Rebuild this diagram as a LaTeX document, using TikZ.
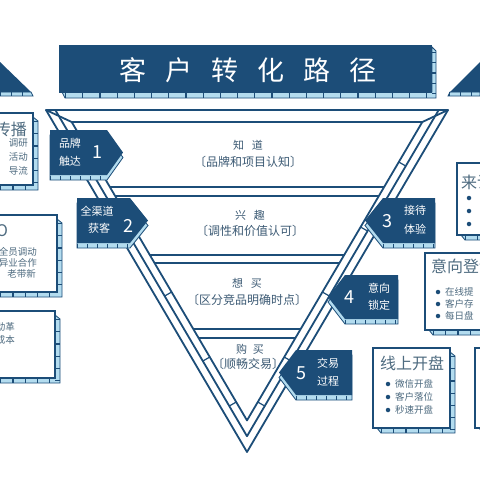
\documentclass[tikz,border=0pt]{standalone}
\usepackage{fontspec}
\setmainfont{Noto Sans CJK SC}
\definecolor{navy}{HTML}{1C4D78}
\definecolor{lblue}{HTML}{B3DCEF}
\definecolor{ink}{HTML}{3C5A74}
\definecolor{ink2}{HTML}{4E6B80}
\newcommand\tagright[5]{%
  \pgfmathsetmacro\ym{(#4+#5)/2}%
  \filldraw[lblue,draw=navy,line width=0.8] (#1,#4+5)--(#2,#4+5)--(#3,\ym+5)--(#2,#5+5)--(#1,#5+5)--cycle;
  \draw[navy,line width=4,dash pattern=on 1 off 9] (#1,#5+2.5)--(#2,#5+2.5);
  \fill[navy] (#1,#4)--(#2,#4)--(#3,\ym)--(#2,#5)--(#1,#5)--cycle;}
\newcommand\tagleft[5]{%
  \pgfmathsetmacro\ym{(#4+#5)/2}%
  \filldraw[lblue,draw=navy,line width=0.8] (#3,#4+5)--(#2,#4+5)--(#1,\ym+5)--(#2,#5+5)--(#3,#5+5)--cycle;
  \draw[navy,line width=4,dash pattern=on 1 off 9] (#2,#5+2.5)--(#3,#5+2.5);
  \fill[navy] (#3,#4)--(#2,#4)--(#1,\ym)--(#2,#5)--(#3,#5)--cycle;}
\newcommand\sidebox[4]{%
  \filldraw[lblue,draw=navy,line width=0.8] (#1+4,#4)--(#3,#4)--(#3,#2+4)--(#3+5,#2+8)--(#3+5,#4+5)--(#1+8,#4+5)--cycle;
  \draw[navy,line width=5,dash pattern=on 1.2 off 11] (#3+2.5,#2+8)--(#3+2.5,#4+4);
  \draw[navy,line width=5,dash pattern=on 1.2 off 11] (#1+8,#4+2.5)--(#3,#4+2.5);
  \filldraw[fill=white,draw=navy,line width=1.6] (#1,#2) rectangle (#3,#4);}
\begin{document}
\begin{tikzpicture}[x=1pt,y=-1pt,
  fr/.style={navy,line width=1.8,line join=round},
  stage/.style={text=ink,inner sep=0,font=\fontsize{11}{12}\selectfont},
  stagesub/.style={text=ink,inner sep=0,font=\fontsize{12}{13}\selectfont},
  tagtxt/.style={text=white,inner sep=0,font=\fontsize{11}{13}\selectfont},
  tagnum/.style={text=white,inner sep=0,font=\fontsize{18}{18}\selectfont},
  btitle/.style={text=ink2,inner sep=0,font=\fontsize{16}{16}\selectfont},
  bline/.style={text=ink2,inner sep=0,font=\fontsize{9.5}{10}\selectfont},
  ttl/.style={text=white,inner sep=0,font=\fontsize{27}{27}\selectfont},
  dot/.style={circle,fill=navy,inner sep=0,minimum size=4.5}]
\useasboundingbox (0,0) rectangle (480,480);
\clip (0,0) rectangle (480,480);
\fill[white] (0,0) rectangle (480,480);

% banner
\filldraw[lblue,draw=navy,line width=0.8] (62,92)--(432,92)--(432,47)--(436,51)--(436,98)--(65,98)--cycle;
\draw[navy,line width=5,dash pattern=on 1.2 off 16] (65,95.5)--(434,95.5);
\draw[navy,line width=4,dash pattern=on 1.2 off 9] (434,52)--(434,96);
\fill[navy] (59,45) rectangle (432,93);
\foreach \c [count=\i from 0] in {客,户,转,化,路,径}
  \node[ttl] (t\i) at (133+46*\i,70) {\c};

% corner triangles
\filldraw[lblue,draw=navy,line width=0.8] (0,92)--(31,92)--(33,96)--(0,96)--cycle;
\draw[navy,line width=4,dash pattern=on 1 off 10] (0,94)--(32,94);
\fill[navy] (0,62)--(31,92)--(0,92)--cycle;
\filldraw[lblue,draw=navy,line width=0.8] (480,92)--(450,92)--(448,96)--(480,96)--cycle;
\draw[navy,line width=4,dash pattern=on 1 off 10] (449,94)--(480,94);
\fill[navy] (480,62)--(450,92)--(480,92)--cycle;

% funnel frame
\draw[fr] (46,110)--(448,110)--(247,452)--cycle;
\draw[fr] (55.3,110)--(247,436.2)--(438.7,110);
\draw[fr] (71.7,122)--(422.3,122)--(247,420.4)--cycle;
\draw[fr] (46,110)--(71.7,122);
\draw[fr] (448,110)--(422.3,122);
\foreach \yy in {170,235,300,365,410} {
  \pgfmathsetmacro\xl{46+0.5877*(\yy-110)}
  \pgfmathsetmacro\xr{448-0.5877*(\yy-110)}
  \draw[navy,line width=1.2] (\xl+7,\yy-4)--(\xl+14,\yy-8);
  \draw[navy,line width=1.2] (\xr-7,\yy-4)--(\xr-14,\yy-8);
}
% dividers
\draw[fr] (109.9,187)--(384.1,187);
\draw[fr] (115.1,196)--(378.9,196);
\draw[fr] (149.8,255)--(344.2,255);
\draw[fr] (154.5,263)--(339.5,263);
\draw[fr] (193.3,329)--(300.7,329);
\draw[fr] (198.6,338)--(295.4,338);

% stage texts
\node[stage] (s1) at (248,145) {知\hspace{8pt}道};
\node[stagesub] (s1b) at (248,162) {〔品牌和项目认知〕};
\node[stage] (s2) at (250,215) {兴\hspace{8pt}趣};
\node[stagesub] (s2b) at (250,231) {〔调性和价值认可〕};
\node[stage] (s3) at (247,283) {想\hspace{8pt}买};
\node[stagesub] (s3b) at (247,300) {〔区分竞品明确时点〕};
\node[stage] (s4) at (250,349) {购\hspace{6pt}买};
\node[stagesub] (s4b) at (248,364) {〔顺畅交易〕};

% tags
\tagright{50}{107}{123}{130}{175}
\node[tagtxt] (g1a) at (70,143) {品牌};
\node[tagtxt] (g1b) at (70,161) {触达};
\node[tagnum] (g1n) at (97,152) {1};
\tagright{77}{130}{148}{198}{243}
\node[tagtxt] (g2a) at (97,211) {全渠道};
\node[tagtxt] (g2b) at (99,228) {获客};
\node[tagnum] (g2n) at (128,226) {2};
\tagleft{365}{383}{435}{198}{243}
\node[tagnum] (g3n) at (387,221) {3};
\node[tagtxt] (g3a) at (415,210) {接待};
\node[tagtxt] (g3b) at (415,229) {体验};
\tagleft{328}{345}{398}{275}{319}
\node[tagnum] (g4n) at (349,297) {4};
\node[tagtxt] (g4a) at (379,288) {意向};
\node[tagtxt] (g4b) at (379,305) {锁定};
\tagleft{279}{296}{352}{350}{395}
\node[tagnum] (g5n) at (301,373) {5};
\node[tagtxt] (g5a) at (328,363) {交易};
\node[tagtxt] (g5b) at (328,381) {过程};

% left boxes
\sidebox{-20}{113}{33}{185}
\node[btitle,anchor=east] (a0) at (27,129) {传播};
\node[bline,anchor=east] (a1) at (28,143) {调研};
\node[bline,anchor=east] (a2) at (28,157) {活动};
\node[bline,anchor=east] (a3) at (28,171) {导流};
\sidebox{-20}{215}{57}{292}
\node[btitle,anchor=west] (b0) at (-4,231) {O};
\node[bline,anchor=east] (b1) at (37,252) {全员调动};
\node[bline,anchor=east] (b2) at (37,263) {异业合作};
\node[bline,anchor=east] (b3) at (36,274) {老带新};
\sidebox{-20}{311}{55}{378}
\node[bline,anchor=east] (c1) at (15,327) {动革};
\node[bline,anchor=east] (c2) at (15,340) {成本};

% right boxes
\sidebox{457}{163}{520}{235}
\node[btitle,anchor=west] (d0) at (461,182) {来访};
\node[dot] (d1) at (469,198) {};
\node[dot] (d2) at (469,211) {};
\node[dot] (d3) at (469,224) {};
\sidebox{425}{253}{520}{330}
\node[btitle,anchor=west] (e0) at (431,266) {意向登记};
\node[dot] (e1) at (438,292) {};
\node[dot] (e2) at (438,304) {};
\node[dot] (e3) at (438,316) {};
\node[bline,anchor=west] (e1t) at (445,292) {在线提};
\node[bline,anchor=west] (e2t) at (445,304) {客户存};
\node[bline,anchor=west] (e3t) at (445,316) {每日盘};
\sidebox{373}{348}{450}{428}
\node[btitle] (f0) at (412,363) {线上开盘};
\node[dot] (f1) at (388,384) {};
\node[dot] (f2) at (388,397) {};
\node[dot] (f3) at (388,410) {};
\node[bline,anchor=west] (f1t) at (395,384) {微信开盘};
\node[bline,anchor=west] (f2t) at (395,397) {客户落位};
\node[bline,anchor=west] (f3t) at (395,410) {秒速开盘};
\sidebox{475}{348}{530}{428}
\end{tikzpicture}
\end{document}
